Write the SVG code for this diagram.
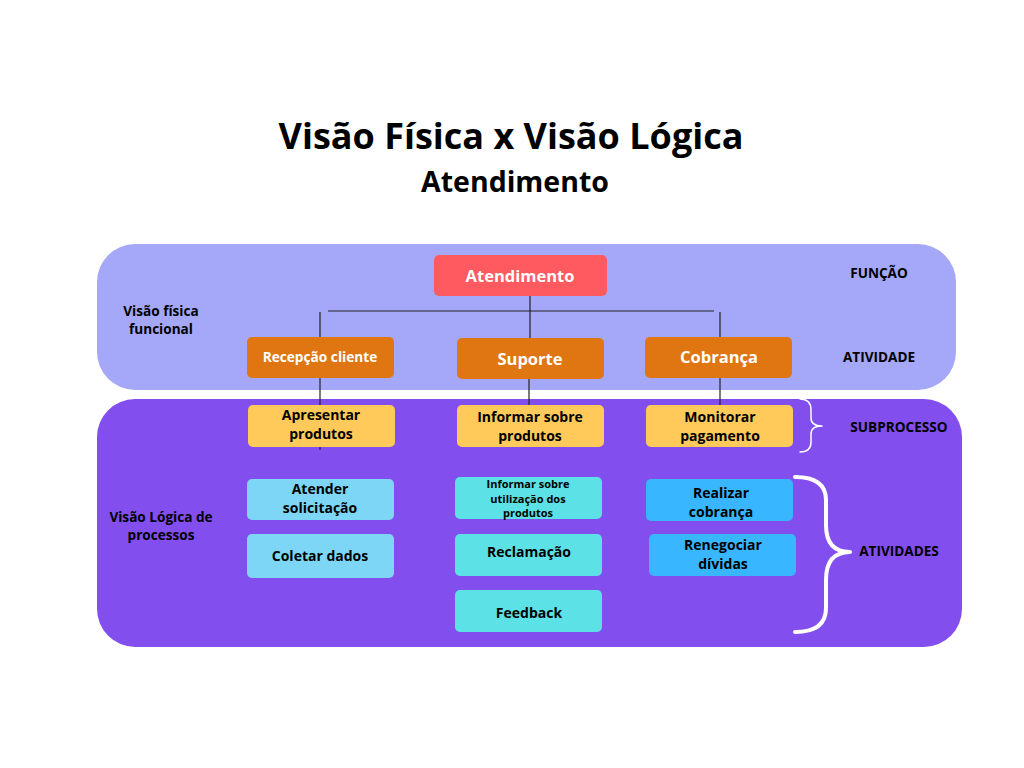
<svg xmlns="http://www.w3.org/2000/svg" width="1024" height="768" viewBox="0 0 1024 768">
<style>
text{font-family:"Open Sans","Noto Sans","DejaVu Sans",sans-serif;font-weight:700;text-anchor:middle;fill:#000}
.w{fill:#fff}
.lbl{font-size:13.6px}
.box{font-size:14px}
.ln{stroke:#222;stroke-width:1.2;fill:none}
.br{stroke:#fff;fill:none;stroke-linecap:round;stroke-linejoin:round}
</style>
<rect width="1024" height="768" fill="#fff"/>
<g id="title">
<text x="511" y="149" font-size="36">Visão Física x Visão Lógica</text>
<text x="515" y="192" font-size="28.5">Atendimento</text>
</g>
<g id="panel-fisica">
<rect x="97" y="244" width="859" height="146" rx="38" fill="#A5A8F8"/>
<text class="lbl" x="161" y="316">Visão física</text>
<text class="lbl" x="161" y="334">funcional</text>
<text class="lbl" x="879" y="278">FUNÇÃO</text>
<text class="lbl" x="879" y="362">ATIVIDADE</text>
</g>
<g id="panel-logica">
<rect x="97" y="399" width="865" height="248" rx="38" fill="#834EEE"/>
<text class="lbl" x="161" y="522">Visão Lógica de</text>
<text class="lbl" x="161" y="540">processos</text>
<text class="lbl" x="899" y="432">SUBPROCESSO</text>
<text class="lbl" x="899" y="556">ATIVIDADES</text>
</g>
<g id="connectors">
<line class="ln" x1="328" y1="311" x2="714" y2="311"/>
<line class="ln" x1="530" y1="296" x2="530" y2="338"/>
<line class="ln" x1="320" y1="312" x2="320" y2="337"/>
<line class="ln" x1="720" y1="312" x2="720" y2="337"/>
<line class="ln" x1="320" y1="378" x2="320" y2="405"/>
<line class="ln" x1="529" y1="379" x2="529" y2="405"/>
<line class="ln" x1="720" y1="378" x2="720" y2="405"/>
<line class="ln" x1="320" y1="447" x2="320" y2="450"/>
</g>
<g id="braces">
<path class="br" stroke-width="1.5" d="M800 399 Q811 399 811 410 L811 418 Q811 426 822 426 Q811 426 811 434 L811 442 Q811 452 800 452"/>
<path class="br" stroke-width="4" d="M795 477 Q826 477 826 500 L826 525 Q826 552 850 552 Q826 552 826 580 L826 608 Q826 632 795 632"/>
</g>
<g id="n-atendimento">
<rect x="434" y="255" width="173" height="41" rx="5" fill="#FF5A5F"/>
<text class="w" x="520" y="282" font-size="16.5">Atendimento</text>
</g>
<g id="n-recepcao">
<rect x="247" y="337" width="147" height="41" rx="5" fill="#E07612"/>
<text class="w" x="320" y="362" font-size="13.7">Recepção cliente</text>
</g>
<g id="n-suporte">
<rect x="457" y="338" width="147" height="41" rx="5" fill="#E07612"/>
<text class="w" x="530" y="365" font-size="16.5">Suporte</text>
</g>
<g id="n-cobranca">
<rect x="645" y="337" width="147" height="41" rx="5" fill="#E07612"/>
<text class="w" x="719" y="363" font-size="16.5">Cobrança</text>
</g>
<g id="n-apresentar">
<rect x="248" y="405" width="147" height="42" rx="5" fill="#FFCA5A"/>
<text class="box" x="321" y="420">Apresentar</text>
<text class="box" x="321" y="439">produtos</text>
</g>
<g id="n-informar">
<rect x="457" y="405" width="147" height="42" rx="5" fill="#FFCA5A"/>
<text class="box" x="530" y="422">Informar sobre</text>
<text class="box" x="530" y="441">produtos</text>
</g>
<g id="n-monitorar">
<rect x="646" y="405" width="147" height="42" rx="5" fill="#FFCA5A"/>
<text class="box" x="720" y="422">Monitorar</text>
<text class="box" x="720" y="441">pagamento</text>
</g>
<g id="n-atender">
<rect x="247" y="479" width="147" height="41" rx="5" fill="#7DD6F6"/>
<text class="box" x="320" y="494">Atender</text>
<text class="box" x="320" y="513">solicitação</text>
</g>
<g id="n-coletar">
<rect x="247" y="534" width="147" height="44" rx="5" fill="#7DD6F6"/>
<text class="box" x="320" y="561">Coletar dados</text>
</g>
<g id="n-utilizacao">
<rect x="455" y="477" width="147" height="42" rx="5" fill="#5CE1E6"/>
<text x="528" y="488" font-size="11">Informar sobre</text>
<text x="528" y="503" font-size="11">utilização dos</text>
<text x="528" y="517" font-size="11">produtos</text>
</g>
<g id="n-reclamacao">
<rect x="455" y="534" width="147" height="42" rx="5" fill="#5CE1E6"/>
<text class="box" x="529" y="557">Reclamação</text>
</g>
<g id="n-feedback">
<rect x="455" y="590" width="147" height="42" rx="5" fill="#5CE1E6"/>
<text class="box" x="529" y="618">Feedback</text>
</g>
<g id="n-realizar">
<rect x="646" y="479" width="147" height="42" rx="5" fill="#38B6FF"/>
<text class="box" x="721" y="498">Realizar</text>
<text class="box" x="721" y="517">cobrança</text>
</g>
<g id="n-renegociar">
<rect x="649" y="534" width="147" height="42" rx="5" fill="#38B6FF"/>
<text class="box" x="723" y="550">Renegociar</text>
<text class="box" x="723" y="569">dívidas</text>
</g>
</svg>
